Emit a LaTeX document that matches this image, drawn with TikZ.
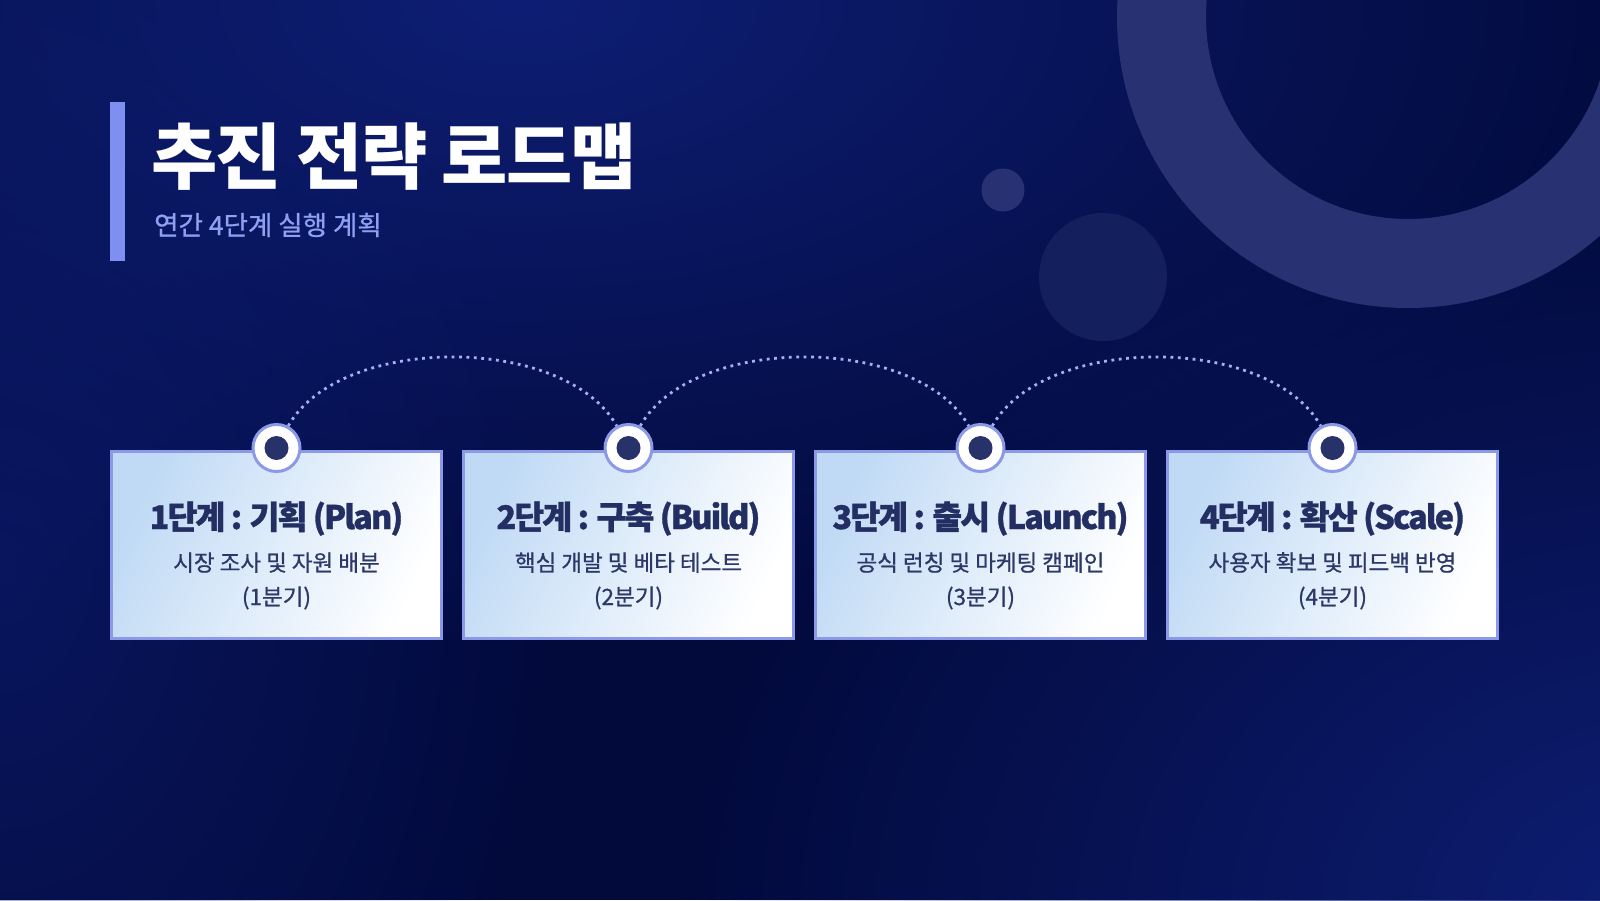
\documentclass[tikz,border=0pt]{standalone}
\usepackage{fontspec}
\setmainfont{Noto Sans CJK KR}
\usetikzlibrary{fadings}
\tikzfading[name=glowfade, inner color=transparent!0, outer color=transparent!100]
\definecolor{bgdark}{HTML}{020A3C}
\definecolor{bgblue}{HTML}{0E1E74}
\definecolor{ringc}{HTML}{283272}
\definecolor{bigdotc}{HTML}{141F5D}
\definecolor{accent}{HTML}{7E8FF0}
\definecolor{subc}{HTML}{8FA0F2}
\definecolor{boxline}{HTML}{8B99E8}
\definecolor{boxl}{HTML}{C0DAF5}
\definecolor{headc}{HTML}{232E63}
\definecolor{bodyc}{HTML}{2C3868}
\definecolor{dotc}{HTML}{27326A}
\definecolor{linkc}{HTML}{A3B0F2}
\tikzset{
  stagebox/.style={rectangle, draw=boxline, line width=3pt, left color=boxl, right color=white, shading angle=65, minimum width=330pt, minimum height=187pt, inner sep=0pt},
  pincirc/.style={circle, draw=boxline, line width=3pt, fill=white, minimum size=47pt, inner sep=0pt},
  pindot/.style={circle, fill=dotc, minimum size=24pt, inner sep=0pt},
  dotline/.style={draw=linkc, line width=2.8pt, dash pattern=on 2.8pt off 4.6pt},
  headtxt/.style={anchor=base, inner sep=0pt, text=headc, font=\fontsize{32.5}{36}\selectfont\bfseries\addfontfeatures{LetterSpace=-6,FakeBold=1}},
  bodytxt/.style={anchor=base, inner sep=0pt, text=bodyc, font=\fontsize{22.5}{26}\selectfont\addfontfeatures{FakeBold=0.8}},
}
\begin{document}
\begin{tikzpicture}[x=1pt,y=-1pt]
\useasboundingbox (0,0) rectangle (1600,900);
\begin{scope}
\clip (0,0) rectangle (1600,900);
\fill[bgdark] (0,0) rectangle (1600,900);
\fill[bgblue, path fading=glowfade] (520,0) ellipse (1200 and 640);
\fill[bgblue, path fading=glowfade, opacity=0.6] (0,560) ellipse (560 and 800);
\fill[bgblue, path fading=glowfade] (1680,920) ellipse (1000 and 760);
\fill[ringc, even odd rule] (1408,17) circle (291) (1408,17) circle (202);
\fill[ringc] (1003,190) circle (21.5);
\fill[bigdotc] (1103,277) circle (64);
\end{scope}
% title block
\fill[accent] (110,102) rectangle (125,261);
\node[anchor=base west, inner sep=0pt, text=white, font=\fontsize{72}{78}\selectfont\bfseries\addfontfeatures{LetterSpace=-2.5}] (title) at (151,183) {추진 전략 로드맵};
\node[anchor=base west, inner sep=0pt, text=subc, font=\fontsize{26.5}{30}\selectfont\addfontfeatures{FakeBold=0.8}] (subtitle) at (154,235) {연간 4단계 실행 계획};
% stage boxes
\node[stagebox] (b1) at (276.5,545) {};
\node[stagebox] (b2) at (628.5,545) {};
\node[stagebox] (b3) at (980.5,545) {};
\node[stagebox] (b4) at (1332.5,545) {};
\node[headtxt] (h1) at (276.5,529) {1단계 : 기획 (Plan)};
\node[headtxt] (h2) at (628.5,529) {2단계 : 구축 (Build)};
\node[headtxt] (h3) at (980.5,529) {3단계 : 출시 (Launch)};
\node[headtxt] (h4) at (1332.5,529) {4단계 : 확산 (Scale)};
\node[bodytxt] (t1a) at (276.5,571) {시장 조사 및 자원 배분};
\node[bodytxt] (t2a) at (628.5,571) {핵심 개발 및 베타 테스트};
\node[bodytxt] (t3a) at (980.5,571) {공식 런칭 및 마케팅 캠페인};
\node[bodytxt] (t4a) at (1332.5,571) {사용자 확보 및 피드백 반영};
\node[bodytxt] (t1b) at (276.5,605) {(1분기)};
\node[bodytxt] (t2b) at (628.5,605) {(2분기)};
\node[bodytxt] (t3b) at (980.5,605) {(3분기)};
\node[bodytxt] (t4b) at (1332.5,605) {(4분기)};
% pins
\node[pincirc] (p1) at (276.5,448) {};
\node[pincirc] (p2) at (628.5,448) {};
\node[pincirc] (p3) at (980.5,448) {};
\node[pincirc] (p4) at (1332.5,448) {};
% connectors
\draw[dotline] (p1.62) .. controls +(52,-92) and +(-52,-92) .. (p2.118);
\draw[dotline] (p2.62) .. controls +(52,-92) and +(-52,-92) .. (p3.118);
\draw[dotline] (p3.62) .. controls +(52,-92) and +(-52,-92) .. (p4.118);
\node[pindot] (d1) at (p1) {};
\node[pindot] (d2) at (p2) {};
\node[pindot] (d3) at (p3) {};
\node[pindot] (d4) at (p4) {};
\end{tikzpicture}
\end{document}
